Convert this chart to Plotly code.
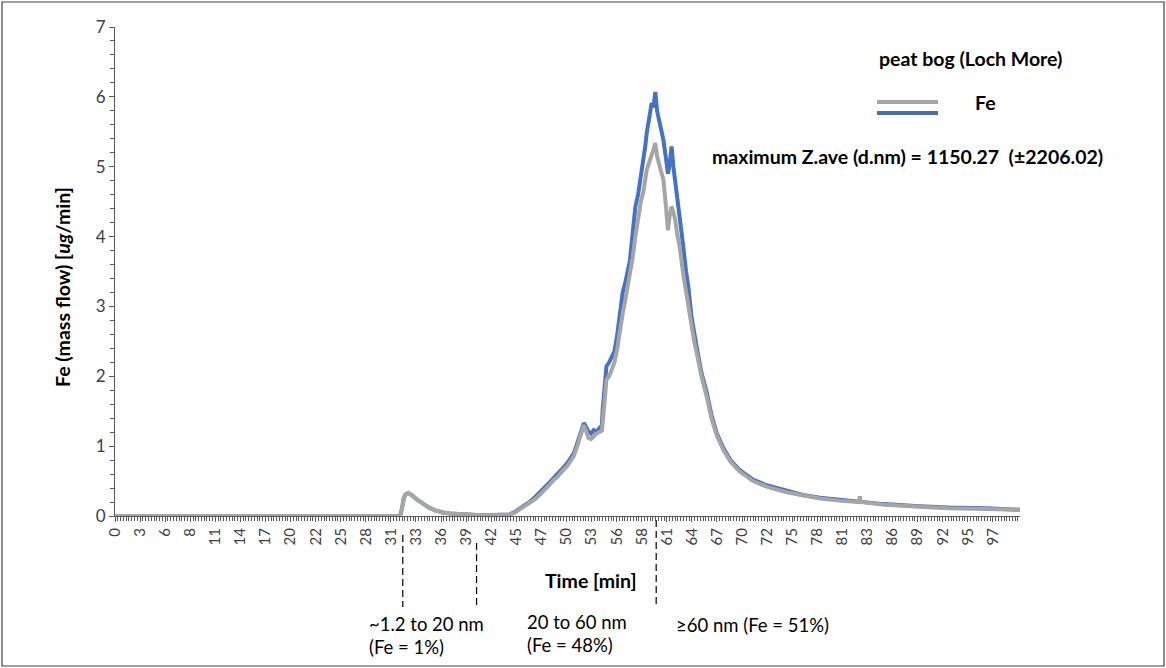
import plotly.graph_objects as go

# ---- data ----
time_min = [0, 10, 20, 30, 31.5, 31.7, 31.9, 32.1, 32.4, 32.8, 33.3, 34.0, 34.7, 35.4, 36.2,
            37.0, 38.0, 39.0, 40.0, 41.0, 42.0, 43.0, 43.6, 44.2, 44.8, 45.4, 45.9, 46.4,
            46.9, 47.3, 47.7, 48.1, 48.5, 48.9, 49.2, 49.6, 50.0, 50.3, 50.7, 51.0, 51.3,
            51.6, 51.8, 52.0, 52.3, 52.6, 52.9, 53.2, 53.5, 53.8, 53.9, 54.1, 54.3, 54.6,
            54.9, 55.2, 55.5, 55.8, 56.1, 56.4, 56.7, 56.9, 57.2, 57.5, 57.8, 58.1, 58.4,
            58.6, 58.75, 59.0, 59.3, 59.5, 59.7, 59.9, 60.2, 60.4, 60.6, 60.9, 61.1, 61.3,
            61.5, 61.7, 61.9, 62.1, 62.4, 62.8, 63.1, 63.35, 63.7, 64.0, 64.3, 64.8, 65.4,
            65.9, 66.5, 67.2, 68.0, 69.0, 70.5, 72.0, 74.2, 76.0, 77.9, 80.0, 82.0, 82.2,
            82.3, 82.4, 85.0, 88.9, 92.0, 96.3, 100.0]

fe_blue = [0, 0, 0, 0, 0, 0.10, 0.25, 0.31, 0.33, 0.30, 0.24, 0.18, 0.12, 0.08, 0.05,
           0.035, 0.025, 0.02, 0.015, 0.01, 0.01, 0.01, 0.02, 0.06, 0.11, 0.16, 0.21, 0.27,
           0.33, 0.38, 0.44, 0.49, 0.55, 0.60, 0.65, 0.70, 0.76, 0.82, 0.90, 1.01, 1.14,
           1.27, 1.33, 1.29, 1.21, 1.18, 1.23, 1.21, 1.26, 1.30, 1.55, 1.90, 2.14, 2.20,
           2.28, 2.36, 2.60, 2.95, 3.20, 3.35, 3.55, 3.66, 4.05, 4.43, 4.60, 4.85, 5.05,
           5.30, 5.48, 5.65, 5.91, 5.85, 6.07, 5.80, 5.62, 5.50, 5.38, 5.10, 4.90, 5.05,
           5.29, 5.00, 4.81, 4.55, 4.24, 3.85, 3.50, 3.28, 2.85, 2.60, 2.40, 2.05, 1.76,
           1.45, 1.18, 0.98, 0.80, 0.66, 0.52, 0.44, 0.36, 0.30, 0.26, 0.23, 0.21, 0.20,
           0.21, 0.20, 0.17, 0.14, 0.12, 0.11, 0.09]

fe_gray = [0, 0, 0, 0, 0, 0.10, 0.25, 0.31, 0.33, 0.30, 0.24, 0.18, 0.12, 0.08, 0.05,
           0.035, 0.025, 0.02, 0.015, 0.01, 0.01, 0.01, 0.02, 0.05, 0.10, 0.14, 0.19, 0.24,
           0.30, 0.35, 0.41, 0.46, 0.52, 0.56, 0.61, 0.66, 0.72, 0.78, 0.86, 0.97, 1.10,
           1.23, 1.30, 1.24, 1.12, 1.10, 1.15, 1.18, 1.20, 1.22, 1.35, 1.70, 1.95, 2.00,
           2.10, 2.20, 2.40, 2.70, 2.90, 3.10, 3.30, 3.45, 3.70, 4.00, 4.24, 4.50, 4.65,
           4.81, 4.95, 5.05, 5.15, 5.25, 5.34, 5.15, 5.00, 4.90, 4.81, 4.40, 4.09, 4.30,
           4.43, 4.35, 4.24, 4.05, 3.85, 3.45, 3.20, 3.00, 2.70, 2.50, 2.32, 2.00, 1.70,
           1.40, 1.15, 0.95, 0.78, 0.64, 0.50, 0.42, 0.34, 0.29, 0.25, 0.22, 0.20, 0.20,
           0.28, 0.20, 0.16, 0.13, 0.11, 0.10, 0.09]

tick_labels = ["0", "3", "6", "8", "11", "14", "17", "20", "22", "25", "28", "31", "33",
               "36", "39", "42", "45", "47", "50", "53", "56", "58", "61", "64", "67", "70",
               "72", "75", "78", "81", "83", "86", "89", "92", "95", "97"]
label_step = 97 / 35
tick_positions = [i * label_step for i in range(len(tick_labels))]

fraction_bounds = [31.8, 39.95, 59.8]

# ---- layout constants ----
W, H = 1166, 668
L, R, T, B = 115, 146, 27, 152
PW, PH = W - L - R, H - T - B


def px(xp):
    return (xp - L) / PW


def py(yp):
    return (H - B - yp) / PH


FONT = "Lato"
BLUE = "#4472C4"
GRAY = "#A5A5A5"
AXIS = "#595959"

fig = go.Figure()
fig.add_trace(go.Scatter(x=time_min, y=fe_blue, mode="lines",
                         line=dict(color=BLUE, width=4), showlegend=False))
fig.add_trace(go.Scatter(x=time_min, y=fe_gray, mode="lines",
                         line=dict(color=GRAY, width=4), showlegend=False))

shapes = []
# outer frame
shapes.append(dict(type="rect", xref="paper", yref="paper",
                   x0=px(2), x1=px(1164), y0=py(666), y1=py(2),
                   line=dict(color="#404040", width=1.2)))
# dashed size-fraction boundaries
dash_ranges = [(535, 607), (543, 606), (520, 605)]
for xb, (ya, yb) in zip(fraction_bounds, dash_ranges):
    shapes.append(dict(type="line", xref="x", yref="paper", x0=xb, x1=xb,
                       y0=py(ya), y1=py(yb), layer="above",
                       line=dict(color="#000000", width=1.2, dash="7px,4px")))
# legend lines
shapes.append(dict(type="line", xref="paper", yref="paper", x0=px(877), x1=px(938),
                   y0=py(102), y1=py(102), line=dict(color=GRAY, width=4)))
shapes.append(dict(type="line", xref="paper", yref="paper", x0=px(877), x1=px(938),
                   y0=py(113), y1=py(113), line=dict(color="#4A6FA8", width=4)))

ann = []


def add_text(text, xp, yp, size=15, bold=False, xanchor="left", angle=0):
    ann.append(dict(text=f"<b>{text}</b>" if bold else text, xref="paper", yref="paper",
                    x=px(xp), y=py(yp), xanchor=xanchor, yanchor="middle",
                    showarrow=False, textangle=angle,
                    font=dict(family=FONT, size=size, color="#000000")))


add_text("peat bog (Loch More)", 877, 58, size=19.5, bold=True)
add_text("Fe", 973, 103, size=19.5, bold=True)
add_text("maximum Z.ave (d.nm) = 1150.27 \u00a0(±2206.02)", 710, 156, size=19.5, bold=True)
add_text("Time [min]", 591, 580, size=19.5, bold=True, xanchor="center")
add_text("Fe (mass flow) [<i>ug</i>/min]", 62, 287, size=19.5, bold=True,
         xanchor="center", angle=-90)
add_text("~1.2 to 20 nm", 367, 624, size=18.5)
add_text("(Fe = 1%)", 367, 647, size=18.5)
add_text("20 to 60 nm", 525, 622, size=18.5)
add_text("(Fe = 48%)", 525, 645, size=18.5)
add_text("≥60 nm (Fe = 51%)", 674, 625, size=18.5)

fig.update_layout(
    width=W, height=H, autosize=False,
    margin=dict(l=L, r=R, t=T, b=B),
    paper_bgcolor="white", plot_bgcolor="white",
    shapes=shapes, annotations=ann,
    font=dict(family=FONT, color="#404040"),
    xaxis=dict(range=[0, 100], tickmode="array", tickvals=tick_positions,
               ticktext=tick_labels, tickangle=-90, showgrid=False, zeroline=False,
               showline=True, linecolor=AXIS, linewidth=1, ticks="outside", ticklen=5,
               tickcolor=AXIS, tickfont=dict(family=FONT, size=15, color="#404040"),
               minor=dict(tickmode="linear", tick0=0, dtick=label_step / 9, ticks="outside",
                          ticklen=4, tickcolor=AXIS, showgrid=False)),
    yaxis=dict(range=[0, 7], tickmode="linear", tick0=0, dtick=1, showgrid=False,
               zeroline=False, showline=True, linecolor=AXIS, linewidth=1,
               ticks="outside", ticklen=5, tickcolor=AXIS,
               tickfont=dict(family=FONT, size=17, color="#404040"),
               minor=dict(tickmode="linear", tick0=0, dtick=0.2, ticks="outside",
                          ticklen=4, tickcolor=AXIS, showgrid=False)),
)

fig.write_html("out.html")
